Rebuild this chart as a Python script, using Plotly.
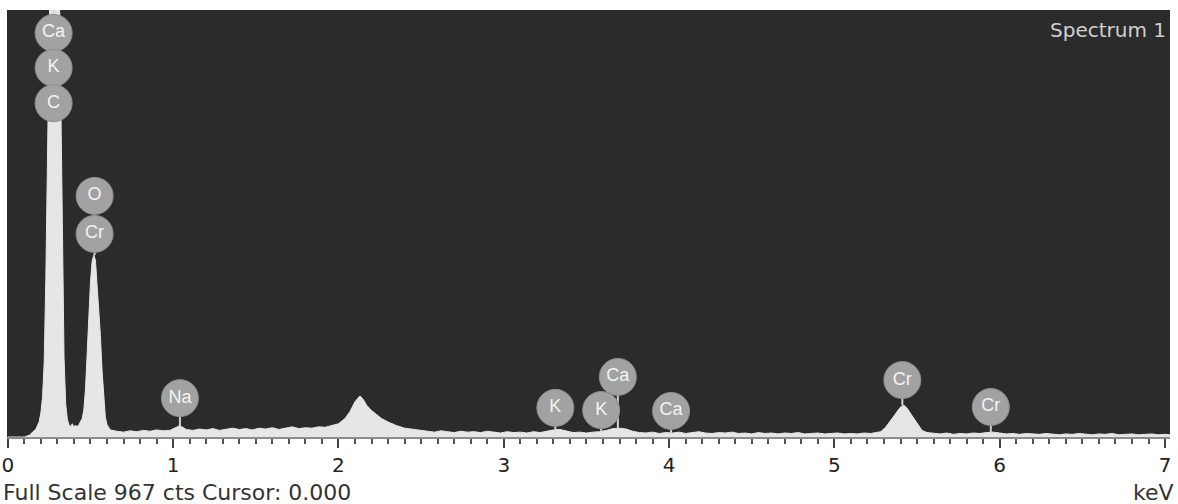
import plotly.graph_objects as go

# ---- spectrum data (keV, counts) ----
energy_kev = [
    0.00, 0.10, 0.13, 0.15, 0.17, 0.19, 0.20, 0.21, 0.22, 0.23, 0.24, 0.25, 0.26, 0.27, 0.28, 0.29,
    0.30, 0.31, 0.32, 0.33, 0.34, 0.35, 0.36, 0.37, 0.38, 0.39, 0.40, 0.41, 0.42, 0.43, 0.44, 0.45,
    0.46, 0.47, 0.48, 0.49, 0.50, 0.51, 0.52, 0.53, 0.54, 0.55, 0.56, 0.57, 0.58, 0.59, 0.60, 0.61,
    0.62, 0.66, 0.70, 0.74, 0.78, 0.82, 0.86, 0.90, 0.94, 0.98, 1.00, 1.02, 1.04, 1.06, 1.08, 1.12,
    1.16, 1.20, 1.24, 1.28, 1.32, 1.36, 1.40, 1.44, 1.48, 1.52, 1.56, 1.60, 1.64, 1.68, 1.72, 1.76,
    1.80, 1.84, 1.88, 1.92, 1.96, 2.00, 2.04, 2.07, 2.10, 2.12, 2.13, 2.15, 2.17, 2.20, 2.23, 2.26,
    2.30, 2.35, 2.40, 2.45, 2.50, 2.54, 2.58, 2.62, 2.66, 2.70, 2.74, 2.78, 2.82, 2.86, 2.90, 2.94,
    2.98, 3.02, 3.06, 3.10, 3.14, 3.18, 3.22, 3.26, 3.30, 3.34, 3.38, 3.42, 3.46, 3.50, 3.54, 3.58,
    3.62, 3.66, 3.70, 3.74, 3.78, 3.82, 3.86, 3.90, 3.94, 3.98, 4.02, 4.06, 4.10, 4.14, 4.18, 4.22,
    4.26, 4.30, 4.34, 4.38, 4.42, 4.46, 4.50, 4.54, 4.58, 4.62, 4.66, 4.70, 4.74, 4.78, 4.82, 4.86,
    4.90, 4.94, 4.98, 5.02, 5.06, 5.10, 5.14, 5.18, 5.22, 5.26, 5.28, 5.31, 5.34, 5.37, 5.40, 5.42,
    5.44, 5.47, 5.50, 5.53, 5.56, 5.60, 5.64, 5.68, 5.72, 5.76, 5.80, 5.84, 5.88, 5.92, 5.96, 6.00,
    6.04, 6.08, 6.12, 6.16, 6.20, 6.24, 6.28, 6.32, 6.36, 6.40, 6.44, 6.48, 6.52, 6.56, 6.60, 6.64,
    6.68, 6.72, 6.76, 6.80, 6.84, 6.88, 6.92, 6.96, 7.00, 7.03,
]
counts = [
    0, 0, 4, 10, 18, 35, 55, 90, 170, 360, 650, 950, 1250, 1450, 1500, 1420,
    1250, 1080, 760, 420, 180, 75, 40, 28, 24, 30, 22, 27, 23, 28, 34, 42,
    62, 110, 190, 275, 350, 398, 412, 400, 350, 300, 230, 150, 85, 45, 28, 20,
    16, 13, 11, 14, 12, 15, 13, 16, 14, 15, 18, 22, 26, 22, 17, 15,
    18, 16, 19, 15, 18, 20, 17, 19, 16, 20, 18, 21, 17, 20, 23, 19,
    21, 20, 23, 22, 26, 30, 42, 58, 80, 90, 93, 85, 72, 60, 50, 42,
    34, 26, 20, 17, 14, 13, 11, 14, 12, 10, 13, 11, 12, 10, 13, 11,
    9, 12, 10, 11, 9, 12, 10, 13, 16, 17, 14, 10, 11, 9, 11, 12,
    15, 19, 20, 18, 13, 10, 9, 11, 8, 10, 9, 11, 8, 10, 12, 9,
    8, 10, 9, 11, 8, 9, 7, 10, 8, 9, 7, 9, 8, 10, 7, 8,
    9, 7, 8, 9, 7, 8, 7, 9, 8, 10, 12, 22, 38, 54, 68, 72,
    65, 48, 30, 15, 10, 8, 7, 9, 6, 8, 7, 9, 8, 10, 11, 9,
    7, 8, 6, 8, 7, 6, 8, 7, 5, 7, 6, 8, 6, 5, 7, 6,
    8, 5, 6, 7, 5, 6, 7, 5, 6, 5,
]

# ---- element markers ----
label_text = ["Ca", "K", "C", "O", "Cr", "Na", "K", "K", "Ca", "Ca", "Cr", "Cr"]
label_energy = [0.277, 0.277, 0.277, 0.525, 0.525, 1.041, 3.312, 3.589, 3.690, 4.012, 5.411, 5.946]
label_counts = [915, 836, 756, 546, 460, 88, 66, 61, 136, 59, 129, 68]
stem_end_counts = [967, 915, 836, 460, 412, 22, 15, 12, 19, 9, 72, 10]

x_ticks = [0, 1, 2, 3, 4, 5, 6, 7]
full_scale = 967

fig = go.Figure()

fig.add_trace(go.Scatter(
    x=energy_kev, y=counts, mode="lines", fill="tozeroy",
    line=dict(color="#e6e6e6", width=1), fillcolor="#e6e6e6",
    hoverinfo="skip", showlegend=False,
))

# stems
stem_x, stem_y = [], []
for e, c0, c1 in zip(label_energy, label_counts, stem_end_counts):
    stem_x += [e, e, None]
    stem_y += [c0, c1, None]
fig.add_trace(go.Scatter(
    x=stem_x, y=stem_y, mode="lines",
    line=dict(color="#d2d2d2", width=2),
    hoverinfo="skip", showlegend=False, cliponaxis=False,
))

# label badges
fig.add_trace(go.Scatter(
    x=label_energy, y=label_counts, mode="markers+text",
    marker=dict(symbol="circle", size=37, color="#a2a2a2",
                line=dict(color="#8e8e8e", width=1)),
    text=label_text, textposition="middle center",
    textfont=dict(family="Liberation Sans, Arial, sans-serif", size=18, color="#f4f4f4"),
    hoverinfo="skip", showlegend=False, cliponaxis=False,
))

fig.update_layout(
    width=1178, height=504,
    margin=dict(l=7, r=8, t=10, b=67, autoexpand=False),
    paper_bgcolor="white", plot_bgcolor="#2b2b2b",
    showlegend=False,
    font=dict(family="Liberation Sans, Arial, sans-serif"),
    xaxis=dict(
        range=[-0.005, 7.03], tickmode="array", tickvals=x_ticks,
        ticktext=[str(v) for v in x_ticks], automargin=False,
        ticks="outside", ticklen=9, tickwidth=2, tickcolor="#444444",
        minor=dict(dtick=0.1, tick0=0, ticks="outside", ticklen=5, tickwidth=2, tickcolor="#555555"),
        showline=True, linecolor="#8c8c8c", linewidth=2,
        showgrid=False, zeroline=False,
        tickfont=dict(family="DejaVu Sans, sans-serif", size=20, color="#222222"),
    ),
    yaxis=dict(range=[0, full_scale], visible=False, showgrid=False, zeroline=False,
               automargin=False),
    annotations=[
        dict(text="Spectrum 1", xref="paper", yref="paper", x=1, y=1,
             xanchor="right", yanchor="top", xshift=-2, yshift=-6, showarrow=False,
             font=dict(family="DejaVu Sans, sans-serif", size=20, color="#d0d0d0")),
        dict(text=f"Full Scale {full_scale} cts Cursor: 0.000", xref="paper", yref="paper",
             x=0, y=0, xanchor="left", yanchor="middle", xshift=-6, yshift=-55,
             showarrow=False, font=dict(family="DejaVu Sans, sans-serif", size=22, color="#333333")),
        dict(text="keV", xref="paper", yref="paper", x=1, y=0,
             xanchor="right", yanchor="middle", xshift=6, yshift=-55,
             showarrow=False, font=dict(family="DejaVu Sans, sans-serif", size=22, color="#333333")),
    ],
)

fig.write_html(
    "out.html",
    config={"displayModeBar": False},
    post_script="document.body.style.margin='0';document.body.style.overflow='hidden';"
                "document.documentElement.style.overflow='hidden';",
)
